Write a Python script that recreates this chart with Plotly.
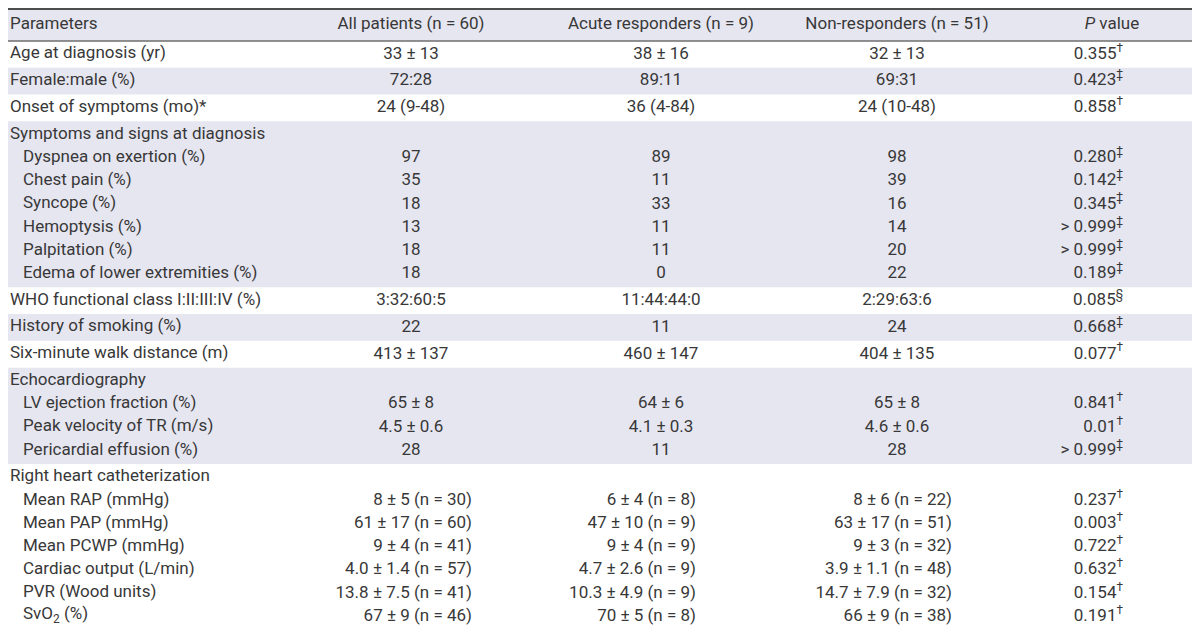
import plotly.graph_objects as go

# ---------------- data ----------------
headers = ["Parameters", "All patients (n = 60)", "Acute responders (n = 9)",
           "Non-responders (n = 51)", "<i>P</i> value"]

parameters = [
    "Age at diagnosis (yr)", "Female:male (%)", "Onset of symptoms (mo)*",
    "Symptoms and signs at diagnosis",
    "Dyspnea on exertion (%)", "Chest pain (%)", "Syncope (%)", "Hemoptysis (%)",
    "Palpitation (%)", "Edema of lower extremities (%)",
    "WHO functional class I:II:III:IV (%)", "History of smoking (%)",
    "Six-minute walk distance (m)",
    "Echocardiography",
    "LV ejection fraction (%)", "Peak velocity of TR (m/s)", "Pericardial effusion (%)",
    "Right heart catheterization",
    "Mean RAP (mmHg)", "Mean PAP (mmHg)", "Mean PCWP (mmHg)", "Cardiac output (L/min)",
    "PVR (Wood units)", "SvO<sub>2</sub> (%)",
]
row_level = [0, 0, 0, 0, 1, 1, 1, 1, 1, 1, 0, 0, 0, 0, 1, 1, 1, 0, 1, 1, 1, 1, 1, 1]

all_patients = ["33 ± 13", "72:28", "24 (9-48)", "", "97", "35", "18", "13", "18", "18",
                "3:32:60:5", "22", "413 ± 137", "", "65 ± 8", "4.5 ± 0.6", "28", "",
                "8 ± 5 (n = 30)", "61 ± 17 (n = 60)", "9 ± 4 (n = 41)", "4.0 ± 1.4 (n = 57)",
                "13.8 ± 7.5 (n = 41)", "67 ± 9 (n = 46)"]
acute_responders = ["38 ± 16", "89:11", "36 (4-84)", "", "89", "11", "33", "11", "11", "0",
                    "11:44:44:0", "11", "460 ± 147", "", "64 ± 6", "4.1 ± 0.3", "11", "",
                    "6 ± 4 (n = 8)", "47 ± 10 (n = 9)", "9 ± 4 (n = 9)", "4.7 ± 2.6 (n = 9)",
                    "10.3 ± 4.9 (n = 9)", "70 ± 5 (n = 8)"]
non_responders = ["32 ± 13", "69:31", "24 (10-48)", "", "98", "39", "16", "14", "20", "22",
                  "2:29:63:6", "24", "404 ± 135", "", "65 ± 8", "4.6 ± 0.6", "28", "",
                  "8 ± 6 (n = 22)", "63 ± 17 (n = 51)", "9 ± 3 (n = 32)", "3.9 ± 1.1 (n = 48)",
                  "14.7 ± 7.9 (n = 32)", "66 ± 9 (n = 38)"]
p_values = ["0.355", "0.423", "0.858", "", "0.280", "0.142", "0.345", "> 0.999", "> 0.999",
            "0.189", "0.085", "0.668", "0.077", "", "0.841", "0.01", "> 0.999", "",
            "0.237", "0.003", "0.722", "0.632", "0.154", "0.191"]
p_marks = ["†", "‡", "†", "", "‡", "‡", "‡", "‡", "‡", "‡", "§", "‡", "†", "", "†", "†", "‡", "",
           "†", "†", "†", "†", "†", "†"]

# ---------------- layout/style ----------------
W, H = 1200, 625
FONT = "Roboto, Liberation Sans, sans-serif"
FSIZE = 17
TXT = "#383838"
SHADE = "#e6e6f1"
OFF = 8  # plotly's gap between anchor point and side-positioned scatter text

header_bottom = 33
table_bottom = 622
n_bands = sum(1 for l in row_level if l == 0)
line_h = 23.2
band_pad = (table_bottom - header_bottom - len(row_level) * line_h) / n_bands

row_y, bands = [], []
y = header_bottom
for lvl in row_level:
    if lvl == 0:
        if bands:
            y += band_pad / 2
            bands[-1][1] = y
        bands.append([y, None])
        y += band_pad / 2
    row_y.append(y + line_h / 2)
    y += line_h
bands[-1][1] = table_bottom

x_param = [0 if l == 0 else 13 for l in row_level]
col_center = [403, 653, 889]
col_right = [472 - OFF, 696 - OFF, 952 - OFF]
p_right = 1123 - OFF
p_header_x = 1104

fig = go.Figure()

shapes = [dict(type="rect", xref="x", yref="y", x0=0, x1=W, y0=0, y1=header_bottom,
               fillcolor=SHADE, line_width=0, layer="below")]
for k, (b0, b1) in enumerate(bands):
    if k % 2 == 1:
        shapes.append(dict(type="rect", xref="x", yref="y", x0=0, x1=W, y0=b0, y1=b1,
                           fillcolor=SHADE, line_width=0, layer="below"))
shapes += [
    dict(type="line", xref="x", yref="y", x0=0, x1=W, y0=1, y1=1, line=dict(color="#4d4d4d", width=2)),
    dict(type="line", xref="x", yref="y", x0=0, x1=W, y0=header_bottom, y1=header_bottom,
         line=dict(color="#6e6e6e", width=1.5)),
    dict(type="line", xref="x", yref="y", x0=0, x1=W, y0=table_bottom, y1=table_bottom,
         line=dict(color="#4d4d4d", width=2)),
]

font = dict(family=FONT, size=FSIZE, color=TXT)


def add_text(xs, ys, texts, positions):
    fig.add_trace(go.Scatter(x=xs, y=ys, text=texts, mode="text", textposition=positions,
                             textfont=font, cliponaxis=False, hoverinfo="skip", showlegend=False))


hy = header_bottom / 2
annotations = [dict(x=0, y=hy, xref="x", yref="y", text=headers[0], showarrow=False,
                    xanchor="left", yanchor="middle", yshift=2, font=font)]
for xp, yy, t in zip(x_param, row_y, parameters):
    annotations.append(dict(x=xp, y=yy, xref="x", yref="y", text=t, showarrow=False,
                            xanchor="left", yanchor="middle", yshift=2, font=font))

add_text([col_center[0], col_center[1], col_center[2], p_header_x], [hy] * 4, headers[1:],
         ["middle center"] * 4)

for c, col in enumerate([all_patients, acute_responders, non_responders]):
    xs, ys, ts, ps = [], [], [], []
    for v, yy in zip(col, row_y):
        if not v:
            continue
        if "(n =" in v:
            xs.append(col_right[c]); ps.append("middle left")
        else:
            xs.append(col_center[c]); ps.append("middle center")
        ys.append(yy); ts.append(v)
    add_text(xs, ys, ts, ps)

xs, ys, ts = [], [], []
for v, m, yy in zip(p_values, p_marks, row_y):
    if v:
        xs.append(p_right); ys.append(yy); ts.append(f"{v}<sup>{m}</sup>")
add_text(xs, ys, ts, ["middle left"] * len(ts))

fig.update_layout(
    width=W, height=H, margin=dict(l=0, r=0, t=0, b=0),
    paper_bgcolor="white", plot_bgcolor="white", shapes=shapes, annotations=annotations,
    xaxis=dict(range=[0, W], visible=False, fixedrange=True),
    yaxis=dict(range=[H, 0], visible=False, fixedrange=True),
)
fig.write_html("out.html")
